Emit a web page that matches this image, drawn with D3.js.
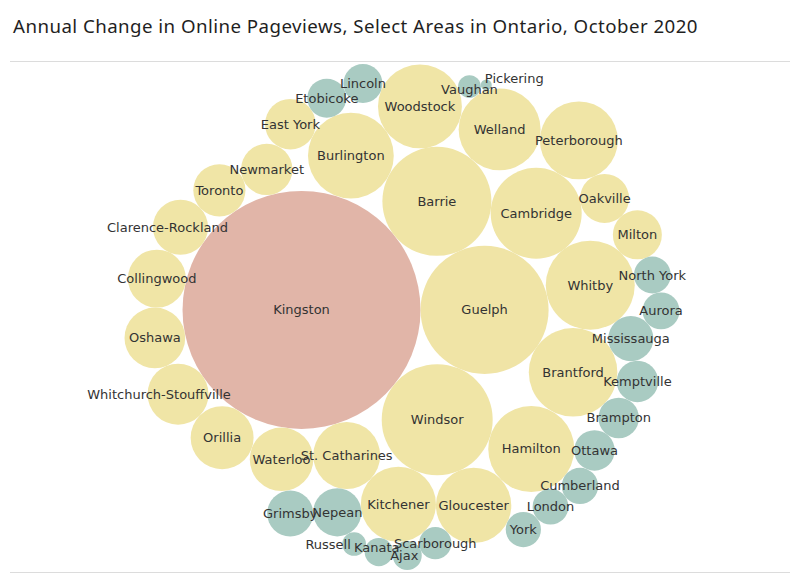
<!DOCTYPE html>
<html>
<head>
<meta charset="utf-8">
<script src="https://cdn.jsdelivr.net/npm/d3@7"></script>
<style>
  body { margin: 0; background: #fff; }
  .title { font-family: "Noto Sans", sans-serif; font-size: 18.7px; letter-spacing: 0.45px; fill: #1f1f1f; }
  .lbl { font-family: "DejaVu Sans", sans-serif; font-size: 13px; fill: #333; }
</style>
</head>
<body>
<div id="chart"></div>
<script>
// annual change in pageviews (%) by area, largest first
var areas = ["Kingston", "Guelph", "Barrie", "Windsor", "Cambridge", "Whitby", "Brantford",
  "Hamilton", "Burlington", "Woodstock", "Welland", "Peterborough", "Gloucester", "Kitchener",
  "St. Catharines", "Waterloo", "Orillia", "Whitchurch-Stouffville", "Oshawa", "Collingwood",
  "Clarence-Rockland", "Toronto", "Newmarket", "East York", "Oakville", "Milton", "Nepean",
  "Grimsby", "Mississauga", "Kemptville", "Brampton", "Ottawa", "Etobicoke", "Lincoln",
  "North York", "Aurora", "Cumberland", "London", "York", "Scarborough", "Ajax", "Kanata",
  "Russell", "Vaughan", "Pickering"];
var changes = [135.7, 35.1, 23.8, 24.9, 14.8, 13.9, 13.7,
  12.6, 12.5, 11.7, 10.9, 9.3, 8.3, 8.2,
  5.3, 4.2, 4.0, 3.4, 3.3, 2.5,
  1.7, 0.9, 0.7, 0.5, 0.1, 0.1, -0.1,
  -0.6, -0.8, -1.6, -1.8, -1.8, -2.1, -2.1,
  -2.5, -2.5, -2.6, -2.7, -2.8, -3.3, -3.8, -3.9,
  -4.5, -4.6, -5.6];
// packing order: each bubble sits against two already placed ones (clockwise pair)
var packBeside = [null, null, ["Kingston", "Guelph"], ["Guelph", "Kingston"],
  ["Barrie", "Guelph"], ["Cambridge", "Guelph"], ["Whitby", "Guelph"],
  ["Brantford", "Windsor"], ["Kingston", "Barrie"], ["Burlington", "Barrie"],
  ["Woodstock", "Barrie"], ["Welland", "Cambridge"], ["Hamilton", "Windsor"],
  ["Gloucester", "Windsor"], ["Kitchener", "Kingston"], ["St. Catharines", "Kingston"],
  ["Waterloo", "Kingston"], ["Orillia", "Kingston"], ["Whitchurch-Stouffville", "Kingston"],
  ["Oshawa", "Kingston"], ["Collingwood", "Kingston"], ["Clarence-Rockland", "Kingston"],
  ["Toronto", "Kingston"], ["Newmarket", "Burlington"], ["Peterborough", "Cambridge"],
  ["Oakville", "Whitby"], ["Kitchener", "St. Catharines"], ["Nepean", "Waterloo"],
  ["Whitby", "Brantford"], ["Mississauga", "Brantford"], ["Kemptville", "Brantford"],
  ["Brampton", "Hamilton"], ["East York", "Burlington"], ["Etobicoke", "Woodstock"],
  ["Milton", "Whitby"], ["North York", "Mississauga"], ["Ottawa", "Hamilton"],
  ["Cumberland", "Hamilton"], ["London", "Gloucester"], ["Gloucester", "Kitchener"],
  ["Scarborough", "Kitchener"], ["Ajax", "Kitchener"], ["Kanata", "Nepean"],
  ["Woodstock", "Welland"], ["Vaughan", "Welland"]];

var width = 800, height = 581;

var svg = d3.select("#chart").append("svg")
  .attr("width", width)
  .attr("height", height);

svg.append("text")
  .attr("class", "title")
  .attr("x", 13)
  .attr("y", 33)
  .text("Annual Change in Online Pageviews, Select Areas in Ontario, October 2020");

svg.append("line").attr("x1", 10).attr("x2", 790).attr("y1", 61.5).attr("y2", 61.5)
  .attr("stroke", "#dcdcdc");
svg.append("line").attr("x1", 10).attr("x2", 790).attr("y1", 572.5).attr("y2", 572.5)
  .attr("stroke", "#dcdcdc");

// bubble area grows with the change
var areaScale = d3.scaleLinear()
  .domain([d3.min(changes) - 0.3, d3.max(changes)])
  .range([0, 119 * 119]);

var posColor = d3.scalePow().exponent(3)
  .domain([0, d3.max(changes)])
  .range(["#f0e5a6", "#e1b5a8"]);
var color = (v) => v < 0 ? "#a9cbc2" : posColor(v);

var data = areas.map((a, i) => ({ name: a, value: changes[i], r: Math.sqrt(areaScale(changes[i])) }));
var byName = {};
data.forEach((d) => { byName[d.name] = d; });

// circle of radius r touching p and q, on the outer side of p -> q
function touch(p, q, r) {
  var dx = q.x - p.x, dy = q.y - p.y, d = Math.hypot(dx, dy);
  var a = p.r + r, b = q.r + r;
  var t = (a * a - b * b + d * d) / (2 * d);
  var h = Math.sqrt(Math.max(0, a * a - t * t));
  var ux = dx / d, uy = dy / d;
  return { x: p.x + t * ux + h * uy, y: p.y + t * uy - h * ux };
}

data[0].x = 0; data[0].y = 0;
data[1].x = data[0].r + data[1].r; data[1].y = 0;
data.forEach(function(d, i) {
  if (i < 2) return;
  var p = touch(byName[packBeside[i][0]], byName[packBeside[i][1]], d.r);
  d.x = p.x; d.y = p.y;
});

var x0 = d3.min(data, (d) => d.x - d.r), x1 = d3.max(data, (d) => d.x + d.r);
var y0 = d3.min(data, (d) => d.y - d.r), y1 = d3.max(data, (d) => d.y + d.r);
var cx = 402, cy = 317;
var xScale = d3.scaleLinear().domain([x0, x1])
  .range([cx - (x1 - x0) / 2, cx + (x1 - x0) / 2]);
var yScale = d3.scaleLinear().domain([y0, y1])
  .range([cy - (y1 - y0) / 2, cy + (y1 - y0) / 2]);

var g = svg.append("g");

g.selectAll("circle")
  .data(data)
  .join("circle")
  .attr("cx", (d) => xScale(d.x))
  .attr("cy", (d) => yScale(d.y))
  .attr("r", (d) => d.r)
  .attr("fill", (d) => color(d.value));

// Tableau nudges a few labels off their bubbles
var labelShift = { "Pickering": [28, -6], "Vaughan": [0, 3], "Russell": [-26, 0],
  "Kanata": [-2, -5], "Ajax": [-3, 0], "Whitchurch-Stouffville": [-19, 0],
  "Clarence-Rockland": [-13, 0] };

g.selectAll("text.lbl")
  .data(data)
  .join("text")
  .attr("class", "lbl")
  .attr("x", (d) => xScale(d.x) + (labelShift[d.name] ? labelShift[d.name][0] : 0))
  .attr("y", (d) => yScale(d.y) + (labelShift[d.name] ? labelShift[d.name][1] : 0))
  .attr("dy", "0.35em")
  .attr("text-anchor", "middle")
  .text((d) => d.name);
</script>
</body>
</html>
